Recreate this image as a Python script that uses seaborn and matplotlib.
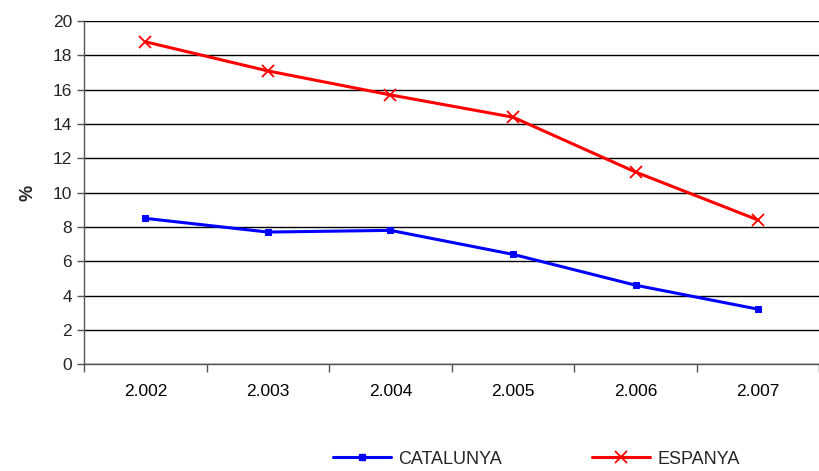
import matplotlib
matplotlib.use("Agg")
import matplotlib.pyplot as plt
import seaborn as sns
import pandas as pd
import numpy as np
from matplotlib.lines import Line2D

years = ["2.002", "2.003", "2.004", "2.005", "2.006", "2.007"]
catalunya = [8.5, 7.7, 7.8, 6.4, 4.6, 3.2]
espanya = [18.8, 17.1, 15.7, 14.4, 11.2, 8.4]

df = pd.DataFrame({
    "any": years * 2,
    "valor": catalunya + espanya,
    "serie": ["CATALUNYA"] * len(years) + ["ESPANYA"] * len(years),
})

sns.set_style("white")
plt.rcParams['font.family'] = ['Liberation Sans', 'DejaVu Sans']

fig = plt.figure(figsize=(8.19, 4.71), dpi=100)
ax = fig.add_axes([0.1026, 0.227, 0.898, 0.728])

sns.lineplot(data=df, x="any", y="valor", hue="serie",
             palette={"CATALUNYA": "#0000ff", "ESPANYA": "#ff0000"},
             linewidth=2.2, ax=ax, legend=False)

colors = ["#0000ff", "#ff0000"]
ax.lines[0].set_marker("s"); ax.lines[0].set_markersize(5)
ax.lines[1].set_marker("x"); ax.lines[1].set_markersize(9); ax.lines[1].set_markeredgewidth(1.3)
for ln, c in zip(ax.lines[:2], colors):
    ln.set_markeredgecolor(c)
    ln.set_markerfacecolor(c)

ax.set_ylim(0, 20)
ax.set_yticks(np.arange(0, 21, 2))
ax.set_xlim(-0.5, len(years) - 0.5)
ax.set_xticks(range(len(years)))
ax.set_xticklabels(years)
ax.set_xticks(np.arange(-0.5, len(years), 1), minor=True)
ax.tick_params(axis="x", which="major", length=0, pad=14, labelsize=12.5, colors="#000000")
ax.tick_params(axis="x", which="minor", length=6, width=1, color="#555555", direction="out", bottom=True)
ax.tick_params(axis="y", length=5, width=1, color="#555555", direction="out", left=True, labelsize=12.5)
ax.yaxis.grid(True, color="black", linewidth=1)
ax.set_axisbelow(True)
for s in ["top", "right"]:
    ax.spines[s].set_visible(False)
for s in ["left", "bottom"]:
    ax.spines[s].set_color("#555555")
    ax.spines[s].set_linewidth(1)
ax.set_xlabel("")
ax.set_ylabel("%", fontsize=13, fontweight="bold", labelpad=12)

handles = [
    Line2D([], [], color="#0000ff", marker="s", markersize=5, linewidth=2.2),
    Line2D([], [], color="#ff0000", marker="x", markersize=9, markeredgewidth=1.3, linewidth=2.2),
]
fig.legend(handles, ["CATALUNYA", "ESPANYA"], loc="center", bbox_to_anchor=(0.655, 0.025),
           ncol=2, frameon=False, fontsize=13, columnspacing=5, handlelength=3.2,
           handletextpad=0.4)

fig.savefig("out.png", dpi=100)
